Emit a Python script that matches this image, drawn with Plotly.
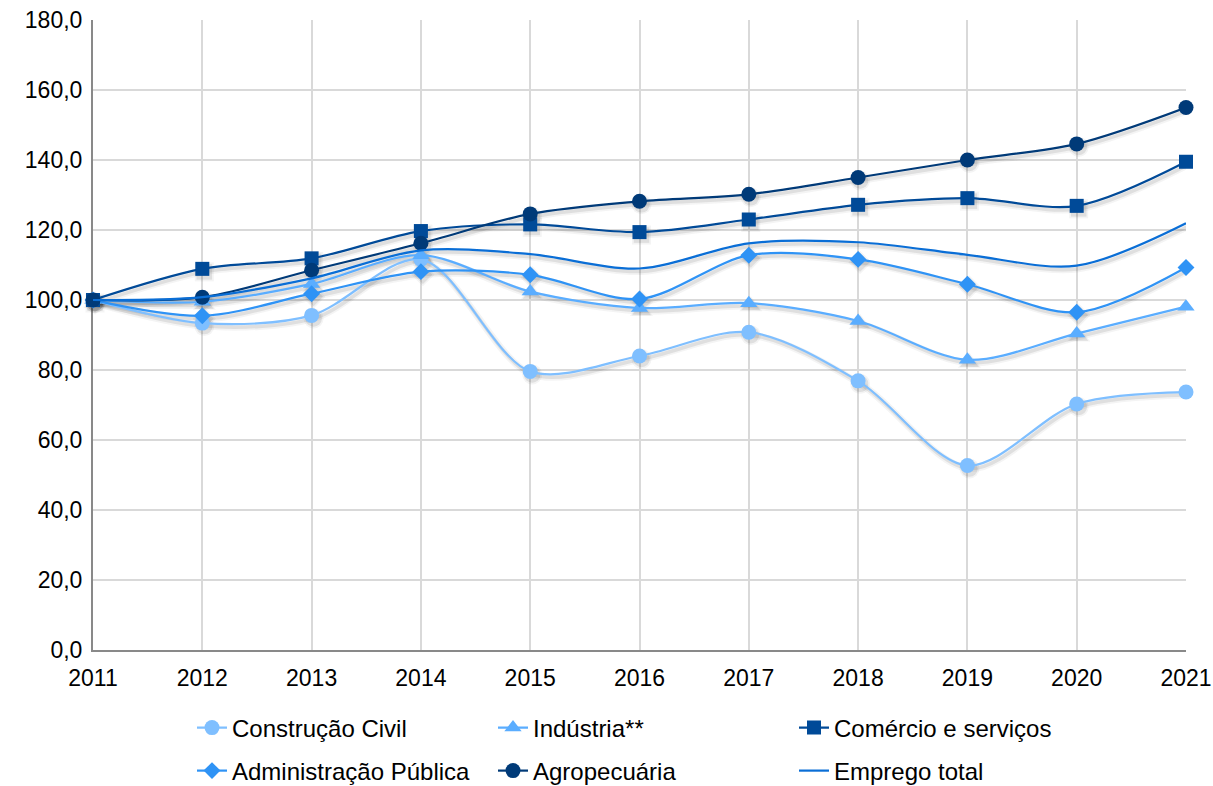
import plotly.graph_objects as go

# Índice de emprego por setor (2011 = 100)
anos = [2011, 2012, 2013, 2014, 2015, 2016, 2017, 2018, 2019, 2020, 2021]

construcao_civil = [100.0, 93.4, 95.6, 111.6, 79.6, 84.0, 90.8, 76.9, 52.7, 70.3, 73.7]
industria = [100.0, 99.5, 104.6, 112.8, 102.4, 97.7, 99.1, 94.0, 82.9, 90.4, 98.1]
comercio_servicos = [100.0, 108.9, 111.9, 119.7, 121.6, 119.4, 123.0, 127.2, 129.1, 126.9, 139.5]
administracao_publica = [100.0, 95.5, 101.8, 108.1, 107.2, 100.3, 112.8, 111.6, 104.5, 96.5, 109.3]
agropecuaria = [100.0, 100.8, 108.5, 116.2, 124.6, 128.2, 130.2, 135.0, 140.0, 144.6, 155.0]
emprego_total = [100.0, 100.8, 106.2, 114.2, 113.1, 109.0, 116.2, 116.5, 112.9, 109.8, 121.9]

y_ticks = [0, 20, 40, 60, 80, 100, 120, 140, 160, 180]

FONT = "Liberation Sans, Arial, sans-serif"

X_RANGE = [2011, 2021]
Y_RANGE = [0, 180]

# deslocamento da sombra, em pixels (direita, baixo)
PLOT_W, PLOT_H = 1213 - 93 - 27, 786 - 20 - 136
SHADOW_DX_PX, SHADOW_DY_PX = 2, 3
dx = SHADOW_DX_PX * (X_RANGE[1] - X_RANGE[0]) / PLOT_W
dy = SHADOW_DY_PX * (Y_RANGE[1] - Y_RANGE[0]) / PLOT_H

series = [
    # nome, valores, cor, símbolo, tamanho do marcador, legenda
    ("Construção Civil", construcao_civil, "#7FBFFF", "circle", 15, "legend"),
    ("Indústria**", industria, "#5AADFF", "triangle-up", 15, "legend"),
    ("Comércio e serviços", comercio_servicos, "#004A98", "square", 14, "legend"),
    ("Administração Pública", administracao_publica, "#2F93F5", "diamond", 13, "legend2"),
    ("Agropecuária", agropecuaria, "#003A78", "circle", 15, "legend2"),
    ("Emprego total", emprego_total, "#0A6ED6", None, 0, "legend2"),
]

fig = go.Figure()

# sombras suaves (eixos x/y deslocados, desenhados por baixo)
for nome, valores, cor, simbolo, tamanho, leg in series:
    for largura, alfa in ((7, 0.05), (3.5, 0.10)):
        fig.add_trace(go.Scatter(
            x=anos, y=valores,
            xaxis="x", yaxis="y",
            mode="lines+markers" if simbolo else "lines",
            line=dict(color=f"rgba(40,40,40,{alfa})", width=largura,
                      shape="spline", smoothing=0.9),
            marker=dict(symbol=simbolo or "circle", size=tamanho + largura - 2,
                        color=f"rgba(40,40,40,{alfa})", line=dict(width=0)),
            showlegend=False, hoverinfo="skip", cliponaxis=False,
        ))

# séries principais
for nome, valores, cor, simbolo, tamanho, leg in series:
    fig.add_trace(go.Scatter(
        x=anos,
        y=valores,
        name=nome,
        xaxis="x2", yaxis="y2",
        mode="lines+markers" if simbolo else "lines",
        line=dict(color=cor, width=2.2, shape="spline", smoothing=0.9),
        marker=dict(symbol=simbolo or "circle", size=tamanho,
                    color=cor, line=dict(width=0)),
        legend=leg,
        cliponaxis=False,
    ))

legend_common = dict(
    orientation="h",
    xref="container", yref="container",
    xanchor="left", yanchor="middle",
    font=dict(family=FONT, size=24, color="#000000"),
    entrywidth=256,
    bgcolor="rgba(0,0,0,0)",
    traceorder="normal",
)

axis_font = dict(family=FONT, size=23, color="#000000")

fig.update_layout(
    width=1213,
    height=786,
    margin=dict(l=93, r=27, t=20, b=136),
    paper_bgcolor="#FFFFFF",
    plot_bgcolor="#FFFFFF",
    separators=",.",
    showlegend=True,
    legend=dict(x=192 / 1213, y=1 - 728 / 786, **legend_common),
    legend2=dict(x=192 / 1213, y=1 - 771 / 786, **legend_common),
    xaxis=dict(range=[X_RANGE[0] - dx, X_RANGE[1] - dx], visible=False,
               showgrid=False, zeroline=False, automargin=False),
    yaxis=dict(range=[Y_RANGE[0] + dy, Y_RANGE[1] + dy], visible=False,
               showgrid=False, zeroline=False, automargin=False),
    xaxis2=dict(
        overlaying="x",
        range=X_RANGE,
        tickmode="array",
        tickvals=anos,
        ticktext=[str(a) for a in anos],
        showgrid=True,
        gridcolor="#D9D9D9",
        gridwidth=2,
        showline=True,
        linecolor="#898989",
        linewidth=2,
        ticks="",
        zeroline=False,
        tickfont=axis_font,
        ticklabelstandoff=6,
        automargin=False,
        layer="below traces",
    ),
    yaxis2=dict(
        overlaying="y",
        range=Y_RANGE,
        tickmode="array",
        tickvals=y_ticks,
        tickformat=".1f",
        showgrid=True,
        gridcolor="#D9D9D9",
        gridwidth=2,
        showline=True,
        linecolor="#898989",
        linewidth=2,
        ticks="",
        zeroline=False,
        tickfont=axis_font,
        ticklabelstandoff=4,
        automargin=False,
        layer="below traces",
    ),
)

fig.write_html("out.html")
